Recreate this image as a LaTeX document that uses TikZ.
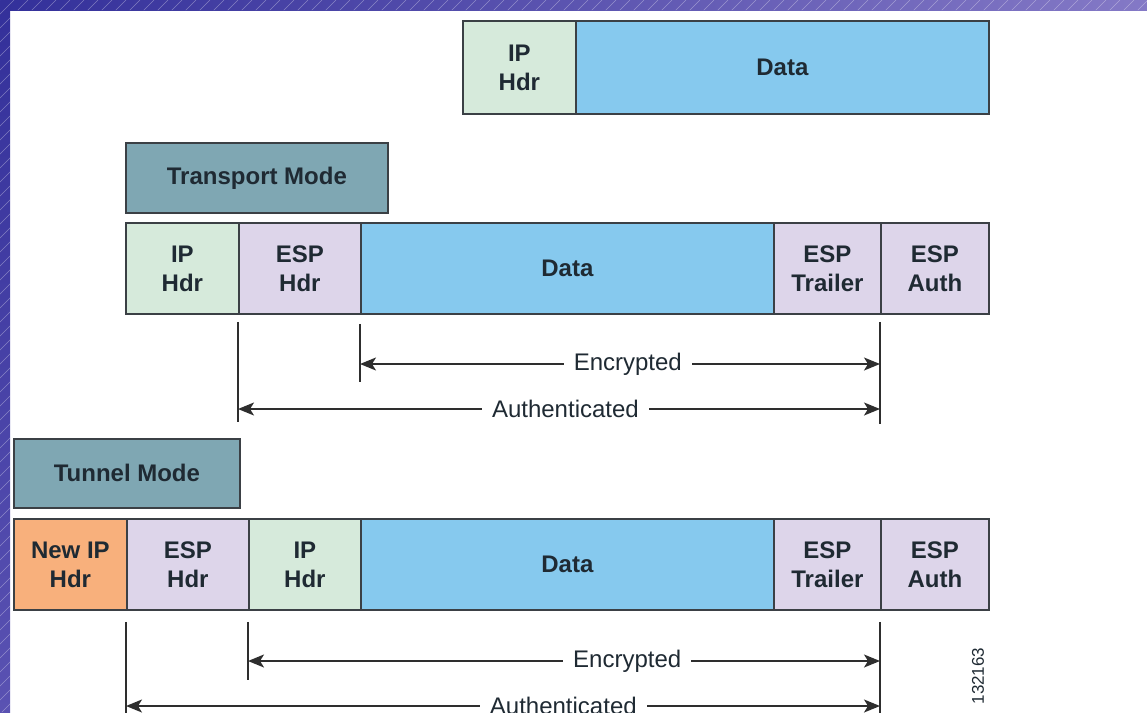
\documentclass[tikz,border=0pt]{standalone}
\usepackage{fontspec}
\setmainfont{Liberation Sans}
\usetikzlibrary{arrows.meta}

\definecolor{iphdr}{HTML}{D6EADB}
\definecolor{datafill}{HTML}{86C9EE}
\definecolor{espfill}{HTML}{DDD5EA}
\definecolor{newip}{HTML}{F8B07C}
\definecolor{modefill}{HTML}{7FA7B3}
\definecolor{cellline}{HTML}{3B4045}
\definecolor{textdark}{HTML}{1F2A33}
\definecolor{arrowline}{HTML}{2E2E2E}
\definecolor{frameA}{HTML}{33309A}
\definecolor{frameB}{HTML}{8479C6}
\definecolor{frameC}{HTML}{5A52B2}

\tikzset{
  cell/.style={draw=cellline, line width=1.8pt, anchor=north west, inner sep=0pt,
    align=center, text=textdark, minimum height=91pt,
    font=\bfseries\fontsize{24}{29}\selectfont},
  modebox/.style={cell, fill=modefill, minimum height=70pt},
  tickline/.style={draw=arrowline, line width=1.6pt},
  span/.style={draw=arrowline, line width=1.6pt,
    {Stealth[length=16pt,width=13pt,inset=4pt]}-{Stealth[length=16pt,width=13pt,inset=4pt]}},
  spanlabel/.style={fill=white, inner xsep=10pt, inner ysep=1pt, text=textdark,
    font=\fontsize{24}{26}\selectfont}
}

\begin{document}
\begin{tikzpicture}[x=1pt,y=-1pt]
\useasboundingbox (0,0) rectangle (1147,712);
\clip (0,0) rectangle (1147,712);

% slide frame: shaded bands with light diagonal hatching
\shade[left color=frameA, right color=frameB] (0,0) rectangle (1147,10);
\shade[top color=frameA, bottom color=frameC] (0,0) rectangle (10,712);
\begin{scope}
  \clip (0,0) rectangle (1147,10) (0,0) rectangle (10,712);
  \foreach \k in {0,14,...,1900}
    \draw[white, opacity=0.35, line width=0.5pt] (\k-720,720) -- (\k,0);
\end{scope}

% original packet
\node[cell, fill=iphdr, minimum width=113pt, minimum height=93pt] (o1) at (462,20) {IP\\Hdr};
\node[cell, fill=datafill, minimum width=413pt, minimum height=93pt] (o2) at (575,20) {Data};

% transport mode
\node[modebox, minimum width=262pt] (tm) at (125,142) {Transport Mode};
\node[cell, fill=iphdr, minimum width=113pt] (t1) at (125,222) {IP\\Hdr};
\node[cell, fill=espfill, minimum width=122pt] (t2) at (238,222) {ESP\\Hdr};
\node[cell, fill=datafill, minimum width=413pt] (t3) at (360,222) {Data};
\node[cell, fill=espfill, minimum width=107pt] (t4) at (773,222) {ESP\\Trailer};
\node[cell, fill=espfill, minimum width=108pt] (t5) at (880,222) {ESP\\Auth};

\draw[tickline] ([yshift=-7pt]t2.south west) -- ++(0,100);
\draw[tickline] ([yshift=-9pt]t3.south west) -- ++(0,58);
\draw[tickline] ([yshift=-7pt]t5.south west) -- ++(0,102);

\coordinate (teL) at (360,364);
\coordinate (teR) at (880,364);
\coordinate (taL) at (238,409);
\coordinate (taR) at (880,409);
\draw[span] (teL) -- node[spanlabel, pos=0.515] {Encrypted} (teR);
\draw[span] (taL) -- node[spanlabel, pos=0.51] {Authenticated} (taR);

% tunnel mode
\node[modebox, minimum width=226pt, minimum height=69pt] (nm) at (13,438) {Tunnel Mode};
\node[cell, fill=newip, minimum width=113pt] (n1) at (13,518) {New IP\\Hdr};
\node[cell, fill=espfill, minimum width=122pt] (n2) at (126,518) {ESP\\Hdr};
\node[cell, fill=iphdr, minimum width=112pt] (n3) at (248,518) {IP\\Hdr};
\node[cell, fill=datafill, minimum width=413pt] (n4) at (360,518) {Data};
\node[cell, fill=espfill, minimum width=107pt] (n5) at (773,518) {ESP\\Trailer};
\node[cell, fill=espfill, minimum width=108pt] (n6) at (880,518) {ESP\\Auth};

\draw[tickline] ([yshift=-11pt]n2.south west) -- ++(0,110);
\draw[tickline] ([yshift=-11pt]n3.south west) -- ++(0,58);
\draw[tickline] ([yshift=-11pt]n6.south west) -- ++(0,110);

\coordinate (neL) at (248,661);
\coordinate (neR) at (880,661);
\coordinate (naL) at (126,706);
\coordinate (naR) at (880,706);
\draw[span] (neL) -- node[spanlabel, pos=0.6] {Encrypted} (neR);
\draw[span] (naL) -- node[spanlabel, pos=0.58] {Authenticated} (naR);

% figure number
\node[rotate=90, text=textdark, font=\fontsize{17}{18}\selectfont, inner sep=0pt] (fig) at (978,676) {132163};
\end{tikzpicture}
\end{document}
